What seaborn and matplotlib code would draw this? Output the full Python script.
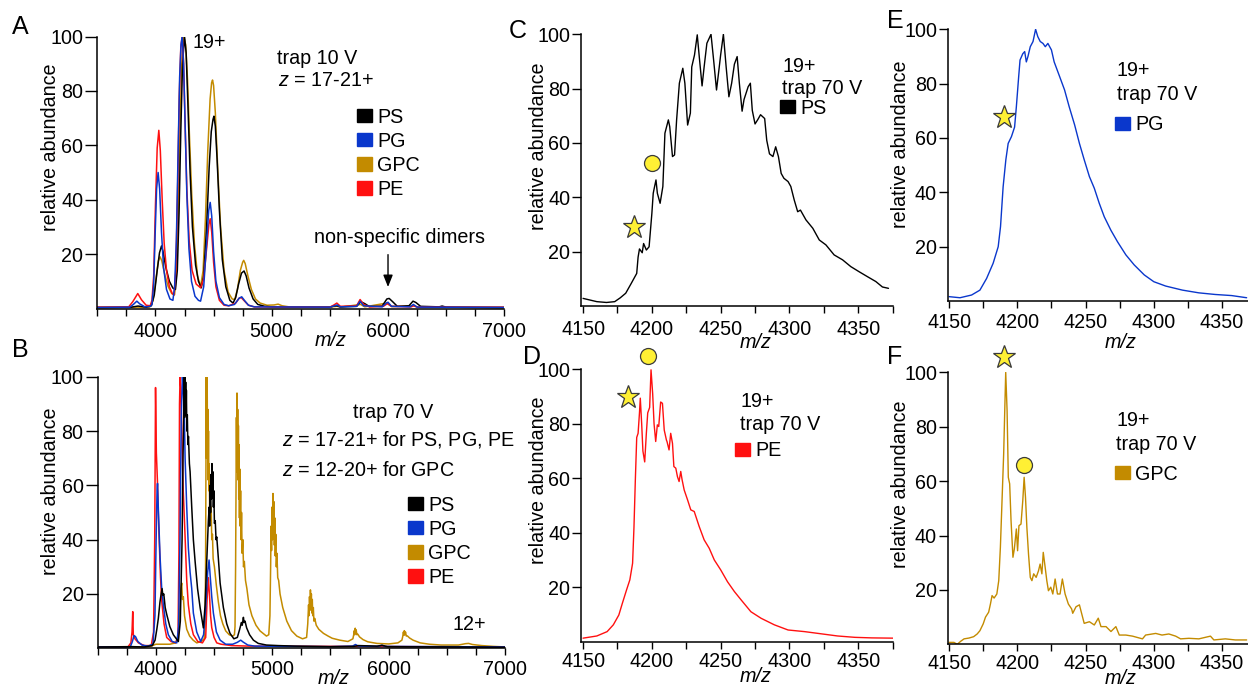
import matplotlib
matplotlib.use("Agg")
import matplotlib.pyplot as plt
import seaborn as sns
from matplotlib.patches import Patch
from matplotlib.ticker import MultipleLocator

# ---------------- data: (m/z, relative abundance) ----------------
# panel A, trap 10 V
A_PS = [(3500,0.3),(3780,0.4),(3850,0.9),(3920,0.5),(3965,1),(3990,5),(4015,14),(4035,20.5),(4052,23),(4065,21),
        (4090,15),(4120,10),(4150,7.5),(4172,7),(4188,14),(4203,35),(4218,65),(4233,90),(4250,100),(4264,94),
        (4280,74),(4298,50),(4318,30),(4345,16),(4370,10),(4394,7.6),(4415,12),(4440,30),(4462,52),(4480,65),
        (4495,69.5),(4503,70.7),(4515,67),(4530,55),(4550,36),(4575,18),(4605,8),(4640,3),(4667,2),(4690,4),
        (4715,9),(4740,13),(4762,13.8),(4780,12),(4805,7.5),(4840,3.5),(4880,1.5),(4940,0.8),(5000,0.6),(5200,0.5),
        (5500,0.5),(5535,0.9),(5560,1),(5590,0.6),(5730,0.8),(5765,2.5),(5800,1.8),(5840,0.7),(5950,0.9),(5990,3.5),
        (6010,3.7),(6040,2.5),(6080,0.8),(6180,1),(6215,2.7),(6240,2.2),(6280,0.8),(6440,0.6),(6465,0.9),(6500,0.5),
        (7000,0.3)]
A_PG = [(3500,0.4),(3780,0.5),(3810,1.5),(3840,2.7),(3865,1.7),(3910,0.6),(3955,0.8),(3970,1.5),(3985,9),(3998,28),
        (4010,44),(4023,50),(4036,44),(4052,28),(4070,15),(4095,7),(4125,3.5),(4150,3),(4165,8),(4180,25),
        (4195,58),(4208,85),(4220,97),(4230,100),(4242,90),(4255,68),(4270,42),(4288,22),(4310,10),(4340,4.5),
        (4370,3),(4388,2.7),(4415,8),(4440,24),(4458,36),(4471,39),(4484,34),(4500,21),(4520,10),(4550,4),
        (4590,1.5),(4630,1),(4680,1.5),(4720,3.8),(4742,4.3),(4765,3),(4800,1.2),(4850,0.6),(5500,0.5),(5540,1),
        (5562,1.3),(5590,0.6),(5730,0.8),(5760,2.7),(5790,1),(5950,0.6),(5985,2),(6000,2.3),(6030,0.8),(6190,0.6),
        (6218,1.5),(6250,0.5),(7000,0.4)]
A_PE = [(3500,0.5),(3770,0.6),(3805,2.5),(3848,5.5),(3880,3.2),(3920,1.2),(3955,1),(3970,3),(3985,12),(4000,38),
        (4015,59),(4029,65.5),(4042,58),(4058,40),(4075,24),(4095,14),(4120,8),(4145,5.5),(4160,5),(4175,14),
        (4190,42),(4205,78),(4218,96),(4230,100),(4242,90),(4255,68),(4270,44),(4290,25),(4315,14),(4350,9),
        (4388,7.6),(4415,11),(4440,22),(4460,31),(4471,33),(4484,28),(4500,17),(4520,8),(4550,3),(4590,1.2),
        (4630,1),(4690,2),(4720,3.8),(4738,4),(4760,3),(4800,1.2),(4850,0.6),(5500,0.5),(5535,1.3),(5560,2),
        (5590,0.8),(5730,1),(5760,3.3),(5790,1.5),(5840,0.6),(5960,0.8),(5995,1.8),(6030,0.8),(6200,0.6),(6220,1),
        (6250,0.5),(7000,0.5)]
A_GPC = [(3500,0.5),(3950,0.5),(3980,3),(4005,11),(4025,17.5),(4040,19),(4055,17.5),(4080,12.5),(4110,8),(4140,5.5),
         (4164,5),(4180,12),(4196,35),(4212,68),(4228,92),(4244,100),(4260,97),(4276,84),(4292,64),(4312,42),
         (4335,24),(4362,12),(4388,8),(4410,14),(4430,33),(4450,58),(4470,77),(4483,83),(4491,84),(4500,82),
         (4515,72),(4535,52),(4560,30),(4590,14),(4625,6),(4660,3.5),(4681,3.3),(4705,7),(4730,14),(4750,17),
         (4759,17.7),(4772,16.5),(4795,12),(4825,7),(4860,3.5),(4900,2),(4960,1.2),(5020,1.3),(5055,1.6),(5090,1),
         (5150,0.6),(5500,0.5),(5560,0.8),(5590,0.5),(5765,1.5),(5800,0.6),(5990,2),(6030,0.7),(6220,1),(6260,0.5),
         (7000,0.4)]

# panel B, trap 70 V
B_PS = [(3500,0.5),(3800,0.6),(3900,0.5),(3970,1),(3993,3),(4008,7),(4021,11),(4035,17),(4045,20),(4053,22),
        (4060,19.5),(4068,20),(4080,15),(4093,12.5),(4120,8),(4150,5),(4193,2.5),(4210,10),(4225,40),(4233,70),
        (4240,88),(4244,100),(4247,85),(4250,100),(4253,88),(4256,98),(4259,86),(4262,95),(4266,80),(4270,86),
        (4275,75),(4280,78),(4288,68),(4294,65),(4308,52),(4322,40),(4337,32),(4358,22),(4380,15),(4408,7.5),
        (4423,16),(4437,32),(4451,47),(4458,52),(4462,45),(4466,60),(4470,50),(4474,64),(4478,55),(4482,68),
        (4486,56),(4490,65),(4494,52),(4498,58),(4503,46),(4510,47),(4517,40),(4523,41),(4537,33),(4552,24),
        (4580,15),(4609,9),(4637,5.5),(4670,3.5),(4700,4),(4720,7),(4735,9.5),(4742,8.5),(4752,11.4),(4758,9.5),
        (4766,10),(4780,7.5),(4805,5),(4838,3),(4880,1.8),(4950,1.2),(5050,1),(5200,0.8),(5500,0.6),(5700,0.7),
        (5740,1),(5900,0.8),(5945,1.1),(5990,0.6),(6500,0.5),(7000,0.4)]
B_PG = [(3500,0.5),(3780,0.5),(3798,2.5),(3812,4.7),(3825,4.3),(3845,2.5),(3880,1.2),(3930,0.8),(3975,1.5),(3992,12),
        (4002,40),(4010,58),(4014,60.7),(4022,50),(4036,33.5),(4050,22),(4064,16),(4085,9),(4107,5),(4140,2.5),
        (4180,2),(4195,8),(4207,40),(4218,85),(4228,100),(4236,95),(4245,85),(4251,70),(4265,52),(4279,37),
        (4294,28),(4308,22),(4322,13),(4351,6),(4385,2.5),(4410,5),(4428,15),(4445,28),(4457,32.5),(4466,27),
        (4480,19),(4494,13),(4520,6),(4552,3),(4600,1.5),(4660,1.5),(4700,2.2),(4729,3),(4750,2.3),(4790,1.2),
        (4850,0.8),(5500,0.6),(5690,0.8),(5715,1.4),(5740,0.8),(5910,0.7),(5940,1.1),(5970,0.7),(7000,0.5)]
B_PE = [(3500,0.5),(3760,0.5),(3785,2),(3795,6),(3801,13.5),(3806,5),(3820,3.5),(3850,2),(3900,1),(3960,1),
        (3980,6),(3990,40),(3997,96),(4004,72),(4013,62),(4022,48),(4030,38),(4040,26),(4050,17.5),(4070,9),
        (4093,4),(4130,2.5),(4170,2),(4190,4),(4198,35),(4203,90),(4208,100),(4214,96),(4222,80),(4235,58),
        (4251,41),(4265,25),(4279,16),(4300,9),(4322,5),(4360,2.5),(4400,2),(4428,4),(4440,18),(4451,26),
        (4460,20),(4470,12),(4480,7.6),(4500,4),(4523,2),(4560,1.5),(4650,1),(4800,0.8),(7000,0.5)]
B_GPC = [(3500,0.5),(3780,0.6),(3900,0.5),(3960,0.8),(4000,1.5),(4060,1.5),(4120,1.5),(4170,2),(4193,5),(4207,15),
         (4215,22),(4222,24),(4228,18),(4236,19),(4246,12),(4265,7),(4290,4.5),(4320,3),(4351,2),(4390,2.5),
         (4415,3.5),(4422,8),(4427,30),(4430,62),(4433,100),(4435,70),(4437,100),(4439,78),(4441,96),(4444,70),
         (4446,88),(4449,62),(4452,80),(4455,58),(4458,68),(4462,52),(4466,60),(4470,47),(4475,52),(4480,40),
         (4486,42),(4492,33),(4503,30),(4520,23),(4537,17),(4555,12),(4575,9),(4600,6.4),(4630,5),(4660,4.5),
         (4675,5),(4680,8),(4685,30),(4689,60),(4692,85),(4695,65),(4697,94),(4700,70),(4703,88),(4706,62),
         (4709,82),(4712,55),(4715,75),(4718,48),(4721,66),(4724,45),(4728,58),(4732,40),(4736,50),(4741,35),
         (4747,40),(4753,30),(4760,32),(4770,25),(4782,22),(4800,16),(4825,12),(4860,8.5),(4895,6.4),(4950,4.5),
         (4970,5),(4980,12),(4986,30),(4990,45),(4994,36),(4998,52),(5002,40),(5006,57),(5010,44),(5014,54),
         (5018,38),(5022,48),(5026,34),(5030,42),(5035,30),(5040,35),(5047,26),(5055,25),(5067,20),(5090,15),
         (5125,10),(5165,6.5),(5211,4.5),(5260,3.5),(5295,4),(5305,9),(5312,16),(5316,12),(5320,19),(5324,14),
         (5328,21.5),(5332,15),(5336,20),(5340,13),(5344,18),(5348,12),(5353,15),(5358,10),(5365,11),(5378,8.5),
         (5400,7),(5440,5.5),(5480,4.5),(5515,3.7),(5580,3),(5650,2.5),(5693,3.5),(5700,5),(5705,6.5),(5709,5),
         (5713,7.4),(5717,5.5),(5721,6.8),(5727,5),(5735,5.2),(5750,4.2),(5780,3.2),(5820,2.4),(5900,1.8),
         (6000,1.6),(6080,2),(6114,3),(6122,4.5),(6127,6),(6131,4.8),(6135,6.5),(6140,5),(6145,6),(6152,4.5),
         (6160,4.6),(6180,3.8),(6210,3),(6240,2.5),(6271,2),(6350,1.5),(6450,1.2),(6600,1.2),(6660,1.7),
         (6687,1.8),(6720,1.4),(6800,1),(6900,0.7),(7000,0.5)]

# panels C-F, 19+ charge state at trap 70 V
C_PS = [(4150,2.8),(4160,1.6),(4167,1.3),(4173,1.6),(4177,3),(4181,4.7),(4185,8.3),(4189,12),(4190,18),(4191,21),
        (4193,19.6),(4194,23),(4196,20.6),(4198,21.8),(4200,34),(4201,41.5),(4202,44),(4203,46.4),(4204,41.5),
        (4206,37.8),(4208,44),(4209.5,63.6),(4212,68.5),(4213,66),(4215,55),(4216.5,55.6),(4218,68.5),(4220,82),
        (4222.5,87.5),(4224,82),(4226,66.6),(4228,71),(4229,88),(4231,92.4),(4233,99.8),(4234.6,91),(4236.5,81),
        (4238,88),(4240,96.7),(4243,100),(4245,90),(4247,79.5),(4249,88),(4250,92.4),(4252,100),(4254,88),
        (4256,77),(4258,82),(4260,89),(4262,91.8),(4263.6,82),(4265.6,71.7),(4267,76),(4270,80.7),(4271.6,82),
        (4273,72),(4275,67),(4277,68.6),(4279,70.4),(4282,69),(4283.5,61),(4285.5,56),(4288,55),(4290,58.6),
        (4292,55),(4294,48.8),(4296,47),(4299,45.8),(4301,44),(4303.5,39),(4306,34.7),(4308,35.3),(4312,31.7),
        (4317,28.6),(4321.7,24.3),(4326.5,22.5),(4332.5,18.8),(4338.6,17),(4344.6,14.5),(4350.7,12.6),
        (4356.7,10.8),(4362.8,9),(4367.6,7),(4372,6.5)]
D_PE = [(4150,1.3),(4160,2.1),(4167.5,3.7),(4172,6.2),(4176,9.8),(4178.5,14),(4181.6,19),(4184,22.7),(4186,28.8),
        (4187,42),(4188,59.4),(4189,75),(4190,76.5),(4191,84),(4191.6,89.4),(4192.6,80),(4193.5,70),(4194.8,66),
        (4196,76.5),(4197,84),(4198.4,86),(4199.4,99.8),(4200.6,91),(4201.6,80),(4202.8,73.5),(4204,79.6),
        (4205,79),(4206.4,88),(4207.7,87.5),(4209,77.7),(4210.6,74),(4211,73.5),(4212.5,70.4),(4213.7,76.5),
        (4215,72.8),(4216,64.3),(4217.4,63.7),(4218.6,60.6),(4219.8,58.8),(4221,62.5),(4222,59.4),(4223.5,55.7),
        (4226,52),(4228.3,48.4),(4230.8,47.8),(4234.4,42.3),(4238,37.4),(4241.7,34.3),(4245.4,30),(4250,26.4),
        (4255,22),(4260,18.4),(4264.8,15.4),(4272,11),(4279.4,8.6),(4289,6.2),(4299,4.3),(4311,3.7),(4323,2.9),
        (4335,2.1),(4347.6,1.6),(4359.7,1.4),(4375.5,1.3)]
E_PG = [(4150,1.6),(4158,1.2),(4166.5,2.2),(4172.6,4),(4177.5,8.3),(4182.3,13.9),(4186,20),(4187.7,27.4),
        (4189.6,42),(4191.6,52),(4193.3,58),(4195.7,60.5),(4198,64),(4199.3,71.5),(4201,82.6),(4202,88.7),
        (4204,91),(4205.4,91.8),(4206.6,88),(4207.8,90),(4209.5,93.6),(4211.5,95.5),(4213.4,100),(4215,97.3),
        (4216.8,95.5),(4218.8,94.8),(4220.5,93.6),(4222.4,94.8),(4225,92.4),(4227,88),(4231,82.6),(4234.6,77.7),
        (4238,71.5),(4242,64.8),(4245.5,58),(4249,52),(4252.8,45.8),(4256.4,41.5),(4260,36),(4263.7,31),
        (4268.6,26),(4273.4,21.8),(4279.5,17),(4285.6,13.3),(4293,9.6),(4300,7.1),(4308.7,5.5),(4321,4),
        (4333,3),(4345,2.4),(4357,2),(4368,1.2)]
F_GPC = [(4150,0.7),(4153.6,0.7),(4156,0),(4158.5,1.1),(4161,2),(4164.6,2.3),(4168,2.8),(4170.6,3.8),(4172.6,5),
         (4175,7.5),(4176.7,10),(4179,11.8),(4180.3,14.8),(4181.5,17.9),(4183,17),(4185,18.5),(4186.4,23.4),
         (4187.6,35.7),(4188.8,52.8),(4190,70),(4190.8,86),(4191.5,100),(4192.5,86),(4193.4,61.4),(4194.4,59),
         (4195.4,45.5),(4196.8,32),(4197.8,35),(4199.3,42.4),(4200.2,34.4),(4201.2,43.6),(4202.7,44.2),(4204,52.8),
         (4205,61.4),(4206,54),(4207,43),(4208.2,33.2),(4209.5,24.6),(4210.7,23.4),(4212,25.9),(4213.8,24.6),
         (4215.5,27),(4216.7,29.5),(4218,25.9),(4219,33.8),(4220.4,28.3),(4221.6,23.4),(4222.8,19.7),(4224.5,21),
         (4226,18.5),(4227.7,24),(4229.4,18.5),(4231.3,18.5),(4233,24),(4235,18.5),(4237.4,14.8),(4239.8,13),
         (4240.6,11.4),(4243,13.8),(4245.5,14.5),(4247.4,10.8),(4249,7.7),(4252.8,8.3),(4256.4,7.1),(4259.3,9.6),
         (4261.3,6.5),(4265,6.5),(4268.6,4.7),(4272.2,6.5),(4274.7,3.4),(4279.5,3.4),(4284.4,3),(4291.7,2),
         (4294,3.4),(4301.4,4),(4306,3.4),(4311,3.8),(4316,3),(4319.6,2),(4325.7,2.2),(4333,2),(4341.5,3),
         (4344,1.6),(4352.4,2),(4359.7,1.6),(4368,1.6)]

# marked species (star / circle) positions
stars = {"C": (4187, 29), "D": (4182.4, 90), "E": (4190, 67.8), "F": (4190.5, 105.5)}
circles = {"C": (4200, 52.6), "D": (4197.3, 104.8), "F": (4204.7, 66)}

colors = {"PS": "#000000", "PG": "#0a37cc", "GPC": "#c38b00", "PE": "#ff1010"}

# ---------------- figure ----------------
sns.set_style("ticks", {"axes.edgecolor": "black", "xtick.color": "black", "ytick.color": "black",
                        "text.color": "black", "axes.labelcolor": "black"})
plt.rcParams["font.family"] = ["Liberation Sans", "DejaVu Sans"]
plt.rcParams["mathtext.fontset"] = "custom"
plt.rcParams["mathtext.rm"] = "Liberation Sans"
plt.rcParams["mathtext.it"] = "Liberation Sans:italic"

W, H = 1248, 688
FS = 14.2
fig = plt.figure(figsize=(W / 100, H / 100), dpi=100)


def fx(x, y):
    return x / W, 1 - y / H


def make_ax(left, top, right, bottom):
    return fig.add_axes([left / W, 1 - bottom / H, (right - left) / W, (bottom - top) / H])


def style(ax, xlim, majors, minor, ylen, xpad):
    ax.set_xlim(*xlim)
    ax.set_ylim(0, 100)
    ax.set_yticks([20, 40, 60, 80, 100])
    ax.set_xticks(majors)
    ax.xaxis.set_minor_locator(MultipleLocator(minor))
    ax.tick_params(axis="y", length=ylen, width=1, pad=1.2, labelsize=FS)
    ax.tick_params(axis="x", which="both", length=5, width=1, pad=xpad, labelsize=FS)
    for s in ax.spines.values():
        s.set_linewidth(1.1)
    sns.despine(ax=ax)
    ax.set_xlabel("")
    ax.set_ylabel("")


def draw(ax, pts, color, lw=1.1):
    mz = [p[0] for p in pts]
    ab = [p[1] for p in pts]
    sns.lineplot(x=mz, y=ab, ax=ax, color=color, linewidth=lw, estimator=None, sort=False)


def square_legend(ax, labels, left, cy):
    handles = [Patch(facecolor=colors[l], edgecolor=colors[l], label=l) for l in labels]
    ax.legend(handles=handles, loc="upper left", bbox_to_anchor=fx(left, cy - 7.4),
              bbox_transform=fig.transFigure, frameon=False, fontsize=FS,
              handlelength=0.76, handleheight=0.66, handletextpad=0.25, labelspacing=0.26,
              borderpad=0, borderaxespad=0)


def text(x, y, s, **kw):
    kw.setdefault("fontsize", FS)
    kw.setdefault("ha", "left")
    kw.setdefault("va", "center")
    fig.text(*fx(x, y), s, **kw)


axA = make_ax(97.3, 36.5, 504.3, 308.5)
axB = make_ax(97.7, 376.7, 505, 648.3)
axC = make_ax(581, 34.3, 893.3, 306)
axD = make_ax(581, 369.3, 893.3, 641.7)
axE = make_ax(947.7, 29.3, 1248, 301)
axF = make_ax(947.7, 372.3, 1248, 644.3)

for key, series in [("GPC", A_GPC), ("PS", A_PS), ("PE", A_PE), ("PG", A_PG)]:
    draw(axA, series, colors[key])
for key, series in [("GPC", B_GPC), ("PE", B_PE), ("PG", B_PG), ("PS", B_PS)]:
    draw(axB, series, colors[key])
draw(axC, C_PS, colors["PS"], 1.0)
draw(axD, D_PE, colors["PE"], 1.0)
draw(axE, E_PG, colors["PG"], 1.0)
draw(axF, F_GPC, colors["GPC"], 1.0)

style(axA, (3500, 7000), [4000, 5000, 6000, 7000], 250, 9, 4.6)
style(axB, (3500, 7000), [4000, 5000, 6000, 7000], 250, 9, 3.3)
style(axC, (4148.5, 4375.5), [4150, 4200, 4250, 4300, 4350], 25, 6.5, 5.0)
style(axD, (4148.5, 4375.5), [4150, 4200, 4250, 4300, 4350], 25, 6.5, 2.6)
style(axE, (4149, 4369), [4150, 4200, 4250, 4300, 4350], 25, 6.5, 3.8)
style(axF, (4149, 4369), [4150, 4200, 4250, 4300, 4350], 25, 6.5, 2.3)

panel_axes = {"C": axC, "D": axD, "E": axE, "F": axF}
for k, (x, y) in stars.items():
    panel_axes[k].plot([x], [y], marker="*", ms=17, mfc="#fff034", mec="#3a3a3a", mew=0.9,
                       ls="none", clip_on=False, zorder=5)
for k, (x, y) in circles.items():
    panel_axes[k].plot([x], [y], marker="o", ms=11.5, mfc="#fff034", mec="#3a3a3a", mew=0.9,
                       ls="none", clip_on=False, zorder=5)

# arrow to non-specific dimers
axA.annotate("", xy=(6000, 7.9), xytext=(6000, 19.8),
             arrowprops=dict(arrowstyle="-|>,head_length=0.55,head_width=0.22", color="black",
                             lw=1.0, mutation_scale=13, shrinkA=0, shrinkB=0))

# legends
square_legend(axA, ["PS", "PG", "GPC", "PE"], 357, 115)
square_legend(axB, ["PS", "PG", "GPC", "PE"], 408, 503)
square_legend(axC, ["PS"], 780, 106)
square_legend(axD, ["PE"], 735, 448.5)
square_legend(axE, ["PG"], 1115, 122.5)
square_legend(axF, ["GPC"], 1115, 472)

# panel letters
for letter, x, y in [("A", 12, 27.5), ("B", 12, 350), ("C", 509, 31.5),
                     ("D", 523, 356.5), ("E", 887, 20.5), ("F", 887, 357.5)]:
    text(x, y, letter, fontsize=18)

# axis labels
for x, y in [(50, 147.5), (50, 491), (538, 146), (538, 480), (900, 144), (900, 484)]:
    text(x, y, "relative abundance", ha="center", rotation=90)
for x, y in [(331, 341), (334, 678), (756, 343), (756, 677), (1121, 342), (1121, 679)]:
    text(x, y, "m/z", ha="center", style="italic")

# annotations
text(193, 42.5, "19+")
text(277, 58.3, "trap 10 V")
text(278, 80, "$z$ = 17-21+")
text(314, 238, "non-specific dimers")
text(353, 413, "trap 70 V")
text(282, 440, "$z$ = 17-21+ for PS, PG, PE")
text(282, 470, "$z$ = 12-20+ for GPC")
text(453, 625, "12+")
for x, y1, y2 in [(782, 66.7, 88.3), (740, 401.7, 425), (1117, 70.7, 95), (1116, 420, 445)]:
    text(x, y1, "19+")
    text(x, y2, "trap 70 V")

fig.savefig("out.png", dpi=100)
